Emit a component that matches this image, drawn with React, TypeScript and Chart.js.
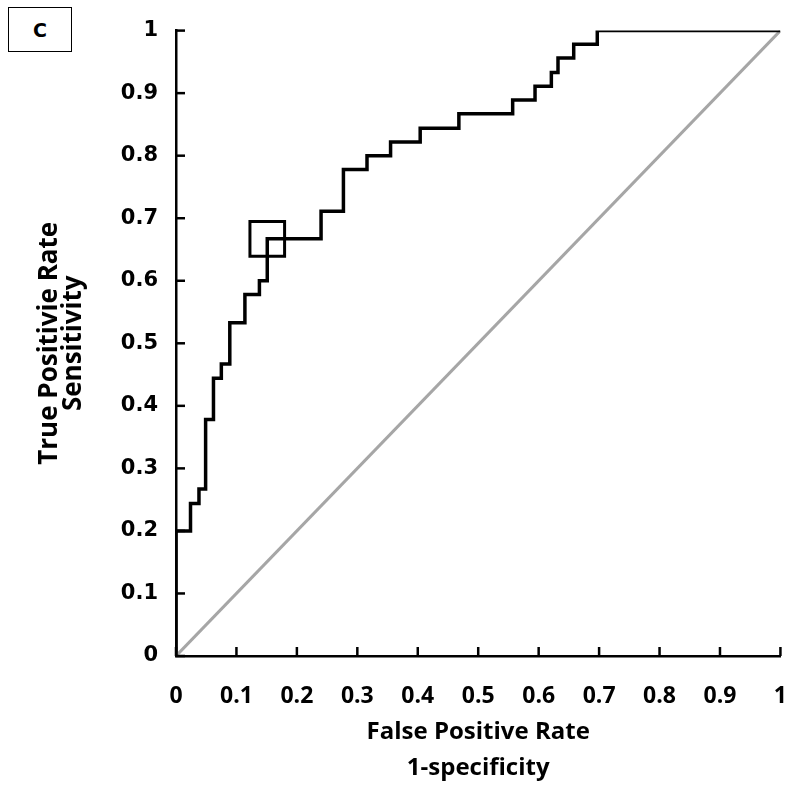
import React, { useEffect, useRef } from "react";
import { Chart, registerables } from "chart.js";

Chart.register(...registerables);

// ROC curve steps (horizontal first, then vertical)
const fpr = [0, 0, 0.024, 0.038, 0.049, 0.062, 0.075, 0.089, 0.114, 0.138, 0.151, 0.24, 0.277, 0.316, 0.355, 0.404, 0.468, 0.557, 0.594, 0.621, 0.632, 0.658, 0.697, 1];
const tpr = [0, 0.2, 0.244, 0.267, 0.378, 0.444, 0.467, 0.533, 0.578, 0.6, 0.667, 0.711, 0.778, 0.8, 0.822, 0.844, 0.867, 0.889, 0.911, 0.933, 0.956, 0.978, 1, 1];

// optimal cut-off marker
const cutoffX = [0.151];
const cutoffY = [0.667];

// chance line
const chanceX = [0, 1];
const chanceY = [0, 1];

const xTickLabels = ["0", "0.1", "0.2", "0.3", "0.4", "0.5", "0.6", "0.7", "0.8", "0.9", "1"];
const yTickLabels = ["0", "0.1", "0.2", "0.3", "0.4", "0.5", "0.6", "0.7", "0.8", "0.9", "1"];

const xTitle = ["False Positive Rate", "1-specificity"];
const yTitle = ["True Positivie Rate", "Sensitivity"];
const panelLabel = "C";

const innerTicks = {
  id: "innerTicks",
  afterDraw(chart: any) {
    const { ctx, chartArea, scales } = chart;
    const x = scales.x;
    const y = scales.y;
    ctx.save();
    ctx.strokeStyle = "#000";
    ctx.lineWidth = 2.5;
    x.ticks.forEach((t: any) => {
      const px = x.getPixelForValue(t.value);
      ctx.beginPath();
      ctx.moveTo(px, chartArea.bottom);
      ctx.lineTo(px, chartArea.bottom - 9);
      ctx.stroke();
    });
    y.ticks.forEach((t: any) => {
      const py = y.getPixelForValue(t.value);
      ctx.beginPath();
      ctx.moveTo(chartArea.left, py);
      ctx.lineTo(chartArea.left + 9, py);
      ctx.stroke();
    });
    ctx.restore();
  },
};

export default function App() {
  const ref = useRef<HTMLCanvasElement>(null);
  useEffect(() => {
    if (!ref.current) return;
    const chart = new Chart(ref.current, {
      type: "scatter",
      data: {
        datasets: [
          {
            label: "cutoff",
            data: cutoffX.map((v, i) => ({ x: v, y: cutoffY[i] })),
            showLine: false,
            pointStyle: "rect",
            pointRadius: 24.5,
            pointBorderWidth: 3,
            pointBorderColor: "#000",
            pointBackgroundColor: "rgba(0,0,0,0)",
          },
          {
            label: "ROC",
            data: fpr.map((v, i) => ({ x: v, y: tpr[i] })),
            showLine: true,
            stepped: "before",
            borderColor: "#000",
            borderWidth: 3.5,
            pointRadius: 0,
            clip: 0,
          } as any,
          {
            label: "chance",
            data: chanceX.map((v, i) => ({ x: v, y: chanceY[i] })),
            showLine: true,
            borderColor: "#a6a6a6",
            borderWidth: 3,
            pointRadius: 0,
          },
        ],
      },
      options: {
        responsive: false,
        animation: false,
        layout: { padding: { top: 30, right: 14, left: 0, bottom: 0 } },
        plugins: { legend: { display: false }, tooltip: { enabled: false } },
        scales: {
          x: {
            type: "linear",
            min: 0,
            max: 1,
            afterFit: (s: any) => {
              s.height = 138;
            },
            ticks: {
              stepSize: 0.1,
              padding: 27,
              maxRotation: 0,
              color: "#000",
              font: { family: "'Open Sans'", size: 23, weight: "bold" },
              callback: (_v: any, i: number) => xTickLabels[i],
            },
            grid: { display: true, drawOnChartArea: false, drawTicks: false },
            border: { display: true, color: "#000", width: 2.5 },
            title: {
              display: true,
              text: xTitle,
              color: "#000",
              font: { family: "'Open Sans'", size: 24, weight: "bold", lineHeight: 1.5 },
              padding: { top: 0, bottom: 8 },
            },
          },
          y: {
            type: "linear",
            min: 0,
            max: 1,
            afterFit: (s: any) => {
              s.width = 176;
            },
            ticks: {
              stepSize: 0.1,
              padding: 18,
              color: "#000",
              font: { family: "'DejaVu Sans'", size: 21, weight: "bold" },
              callback: (_v: any, i: number) => yTickLabels[i],
            },
            grid: { display: true, drawOnChartArea: false, drawTicks: false },
            border: { display: true, color: "#000", width: 2.5 },
            title: {
              display: true,
              text: yTitle,
              color: "#000",
              font: { family: "'Open Sans'", size: 26, weight: "bold", lineHeight: 0.95 },
              padding: { top: 37, bottom: 0 },
            },
          },
        },
      },
      plugins: [innerTicks],
    });
    return () => chart.destroy();
  }, []);

  return (
    <div style={{ position: "absolute", left: 0, top: 0, width: 800, height: 794, overflow: "hidden", background: "#fff" }}>
      <canvas ref={ref} width={814} height={794} style={{ width: 814, height: 794, display: "block" }} />
      <div
        style={{
          position: "absolute",
          left: 8,
          top: 7,
          width: 64,
          height: 45,
          boxSizing: "border-box",
          border: "1.5px solid #000",
          display: "flex",
          alignItems: "center",
          justifyContent: "center",
          fontFamily: "'DejaVu Sans'",
          fontWeight: "bold",
          fontSize: 19,
          color: "#000",
          background: "#fff",
        }}
      >
        {panelLabel}
      </div>
    </div>
  );
}
